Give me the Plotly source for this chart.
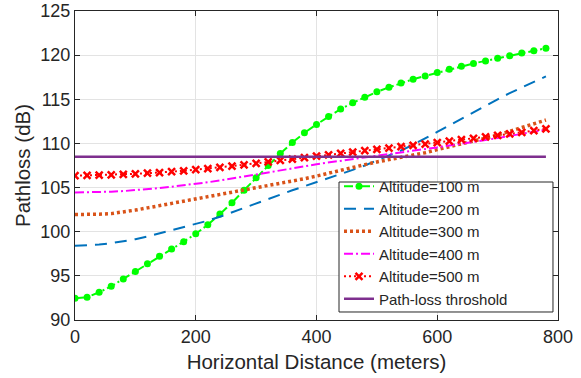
import plotly.graph_objects as go

distance = list(range(0, 781, 20))

alt_100 = [92.45, 92.57, 93.14, 93.81, 94.65, 95.48, 96.38, 97.21, 98.04, 98.87,
           99.77, 100.79, 102.0, 103.27, 104.7, 106.1, 107.5, 108.85, 110.1, 111.2,
           112.15, 113.05, 113.9, 114.6, 115.24, 115.84, 116.35, 116.85, 117.27, 117.65,
           118.02, 118.4, 118.75, 119.06, 119.35, 119.65, 119.94, 120.24, 120.51, 120.78]

alt_200 = [98.4, 98.45, 98.55, 98.7, 98.9, 99.15, 99.45, 99.8, 100.15, 100.5,
           100.85, 101.25, 101.7, 102.2, 102.75, 103.25, 103.75, 104.25, 104.7, 105.15,
           105.6, 106.05, 106.5, 107.0, 107.5, 108.05, 108.6, 109.2, 109.85, 110.55,
           111.3, 112.05, 112.8, 113.55, 114.3, 115.0, 115.7, 116.35, 117.0, 117.6]

alt_300 = [101.95, 101.95, 101.98, 102.05, 102.2, 102.45, 102.7, 102.95, 103.2, 103.45,
           103.65, 103.9, 104.15, 104.45, 104.72, 104.98, 105.2, 105.45, 105.72, 106.0,
           106.3, 106.65, 107.0, 107.3, 107.6, 107.9, 108.15, 108.4, 108.65, 108.95,
           109.3, 109.6, 109.9, 110.2, 110.6, 110.95, 111.35, 111.8, 112.2, 112.65]

alt_400 = [104.45, 104.45, 104.48, 104.53, 104.6, 104.7, 104.82, 104.95, 105.1, 105.25,
           105.4, 105.6, 105.8, 106.02, 106.25, 106.47, 106.7, 106.93, 107.17, 107.4,
           107.65, 107.85, 108.05, 108.25, 108.45, 108.63, 108.82, 109.0, 109.18, 109.37,
           109.55, 109.75, 109.95, 110.17, 110.38, 110.6, 110.85, 111.07, 111.3, 111.55]

alt_500 = [106.35, 106.38, 106.4, 106.45, 106.5, 106.56, 106.63, 106.7, 106.8, 106.9,
           107.02, 107.15, 107.3, 107.43, 107.58, 107.74, 107.9, 108.07, 108.23, 108.4,
           108.55, 108.7, 108.86, 109.02, 109.18, 109.33, 109.48, 109.63, 109.78, 109.93,
           110.1, 110.25, 110.42, 110.58, 110.74, 110.9, 111.07, 111.25, 111.45, 111.65]

threshold = [108.5] * len(distance)

names = ["Altitude=100 m", "Altitude=200 m", "Altitude=300 m",
         "Altitude=400 m", "Altitude=500 m", "Path-loss throshold"]

x_ticks = [0, 200, 400, 600, 800]
y_ticks = [90, 95, 100, 105, 110, 115, 120, 125]

FONT = "Liberation Sans, Arial, Helvetica, sans-serif"
TXT = "#262626"

fig = go.Figure()

fig.add_trace(go.Scatter(
    x=distance, y=alt_100, name=names[0], mode="lines+markers",
    line=dict(color="#00FF00", width=2, dash="9px,3px,2px,3px"),
    marker=dict(symbol="circle", size=7, color="#00FF00")))
fig.add_trace(go.Scatter(
    x=distance, y=alt_200, name=names[1], mode="lines",
    line=dict(color="#0072BD", width=2, dash="12px,8px")))
fig.add_trace(go.Scatter(
    x=distance, y=alt_300, name=names[2], mode="lines",
    line=dict(color="#D95319", width=3.5, dash="3px,3px")))
fig.add_trace(go.Scatter(
    x=distance, y=alt_400, name=names[3], mode="lines",
    line=dict(color="#FF00FF", width=2, dash="9px,3px,2px,3px")))
fig.add_trace(go.Scatter(
    x=distance, y=alt_500, name=names[4], mode="lines+markers",
    line=dict(color="#FF0000", width=2, dash="2px,3px"),
    marker=dict(symbol="x-thin", size=7, color="#FF0000",
                line=dict(width=2.5, color="#FF0000"))))
fig.add_trace(go.Scatter(
    x=distance, y=threshold, name=names[5], mode="lines",
    line=dict(color="#7E2F8E", width=2.5)))

axis_common = dict(
    showgrid=True, gridcolor="#E3E3E3", gridwidth=1,
    showline=True, linecolor=TXT, linewidth=1, mirror="ticks",
    ticks="inside", ticklen=5, tickcolor=TXT, tickwidth=1,
    tickfont=dict(family=FONT, size=18, color=TXT),
    zeroline=False, automargin=False,
)

# legend frame (MATLAB-style box, wider than plotly's auto box)
fig.add_shape(type="rect", xref="paper", yref="paper",
              x0=0.5466, x1=0.9896, y0=0.0259, y1=0.4466,
              fillcolor="white", line=dict(color=TXT, width=1), layer="above")

fig.update_layout(
    width=581, height=378,
    margin=dict(l=75, r=23, t=11, b=58),
    paper_bgcolor="white", plot_bgcolor="white",
    font=dict(family=FONT, color=TXT),
    xaxis=dict(range=[0, 800], tickvals=x_ticks,
               title=dict(text="Horizontal Distance (meters)",
                          font=dict(family=FONT, size=20.5, color=TXT), standoff=9),
               **axis_common),
    yaxis=dict(range=[90, 125], tickvals=y_ticks,
               title=dict(text="Pathloss (dB)",
                          font=dict(family=FONT, size=20.5, color=TXT), standoff=4),
               **axis_common),
    legend=dict(x=0.5466, y=0.4854, xanchor="left", yanchor="top",
                bgcolor="rgba(0,0,0,0)", borderwidth=0,
                font=dict(family=FONT, size=15, color=TXT),
                itemwidth=30),
    showlegend=True,
)

fig.write_html("out.html")
